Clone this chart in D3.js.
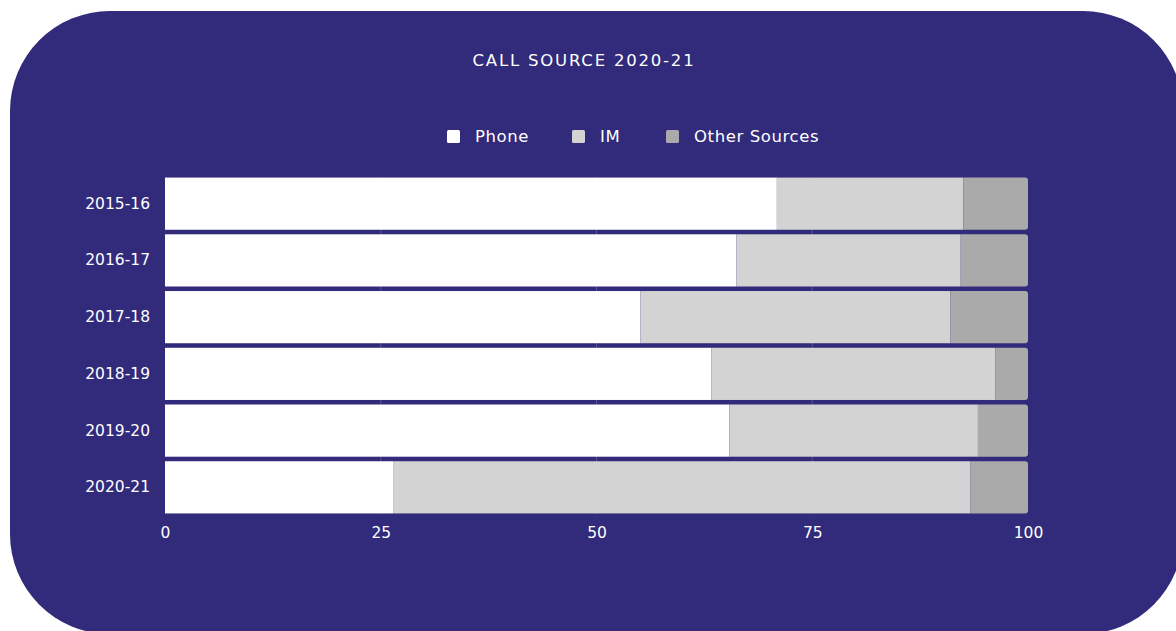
<!DOCTYPE html>
<html>
<head>
<meta charset="utf-8">
<script src="https://cdn.jsdelivr.net/npm/d3@7"></script>
<style>
  body { margin: 0; background: #ffffff; }
  text { font-family: "DejaVu Sans", sans-serif; }
</style>
</head>
<body>
<svg id="chart" width="1176" height="631"></svg>
<script>
// Data
var years = ["2015-16", "2016-17", "2017-18", "2018-19", "2019-20", "2020-21"];
var phone = [70.9, 66.2, 55.1, 63.3, 65.4, 26.5];
var im = [21.6, 26.0, 35.9, 32.9, 28.8, 66.8];
var other = [7.5, 7.8, 9.0, 3.8, 5.8, 6.7];
var seriesNames = ["Phone", "IM", "Other Sources"];
var xTicks = [0, 25, 50, 75, 100];

var colors = ["#ffffff", "#d3d3d3", "#aaaaaa"];
var bg = "#322a7a";
var font = "'DejaVu Sans', sans-serif";

var svg = d3.select("#chart");

// background card
svg.append("rect")
  .attr("x", 10).attr("y", 11)
  .attr("width", 1173).attr("height", 623)
  .attr("rx", 100).attr("ry", 100)
  .attr("fill", bg);

// title
svg.append("text")
  .attr("x", 584).attr("y", 66)
  .attr("text-anchor", "middle")
  .attr("fill", "#ffffff")
  .attr("font-size", 16.5)
  .attr("letter-spacing", 1.8)
  .text("CALL SOURCE 2020-21");

// table for stacking
var rows = years.map(function(y, i) {
  return {year: y, "Phone": phone[i], "IM": im[i], "Other Sources": other[i]};
});
var stacked = d3.stack().keys(seriesNames)(rows);

var x = d3.scaleLinear().domain([0, 100]).range([165, 1028]);
var y = d3.scaleBand().domain(years).range([177, 514]).paddingInner(0.08).paddingOuter(0.01);

// grid lines
svg.append("g")
  .selectAll("line")
  .data(xTicks.slice(1, 4))
  .enter()
  .append("line")
  .attr("x1", function(d) { return x(d); })
  .attr("x2", function(d) { return x(d); })
  .attr("y1", 177).attr("y2", 514)
  .attr("stroke", "#5b5393")
  .attr("stroke-width", 1);

// bars
var groups = svg.append("g")
  .selectAll("g")
  .data(stacked)
  .enter()
  .append("g")
  .attr("fill", function(d, i) { return colors[i]; });

groups.each(function(s, si) {
  var g = d3.select(this);
  s.forEach(function(d) {
    var x0 = x(d[0]), x1 = x(d[1]), y0 = y(d.data.year), h = y.bandwidth();
    if (si == 2) {
      // rounded right end
      var r = 3;
      var p = d3.path();
      p.moveTo(x0, y0);
      p.lineTo(x1 - r, y0);
      p.quadraticCurveTo(x1, y0, x1, y0 + r);
      p.lineTo(x1, y0 + h - r);
      p.quadraticCurveTo(x1, y0 + h, x1 - r, y0 + h);
      p.lineTo(x0, y0 + h);
      p.closePath();
      g.append("path").attr("d", p.toString());
    } else {
      g.append("rect")
        .attr("x", x0).attr("y", y0)
        .attr("width", x1 - x0).attr("height", h);
    }
  });
});

// x axis
var xAxis = svg.append("g")
  .attr("transform", "translate(0,514)")
  .call(d3.axisBottom(x).tickValues(xTicks).tickSize(0).tickPadding(13));
xAxis.select(".domain").remove();
xAxis.selectAll("text")
  .attr("fill", "#ffffff")
  .attr("font-size", 15.5)
  .style("font-family", font);

// y axis
var yAxis = svg.append("g")
  .attr("transform", "translate(165,0)")
  .call(d3.axisLeft(y).tickSize(0).tickPadding(15));
yAxis.select(".domain").remove();
yAxis.selectAll("text")
  .attr("fill", "#ffffff")
  .attr("font-size", 15.5)
  .style("font-family", font);

// legend
var legendX = [447, 572, 666];
var legend = svg.append("g")
  .selectAll("g")
  .data(seriesNames)
  .enter()
  .append("g")
  .attr("transform", function(d, i) { return "translate(" + legendX[i] + ",130)"; });

legend.append("rect")
  .attr("width", 13).attr("height", 13)
  .attr("rx", 1.5)
  .attr("fill", function(d, i) { return colors[i]; });

legend.append("text")
  .attr("x", 28).attr("y", 12)
  .attr("fill", "#ffffff")
  .attr("font-size", 16.5)
  .attr("letter-spacing", 0.6)
  .text(function(d) { return d; });
</script>
</body>
</html>
